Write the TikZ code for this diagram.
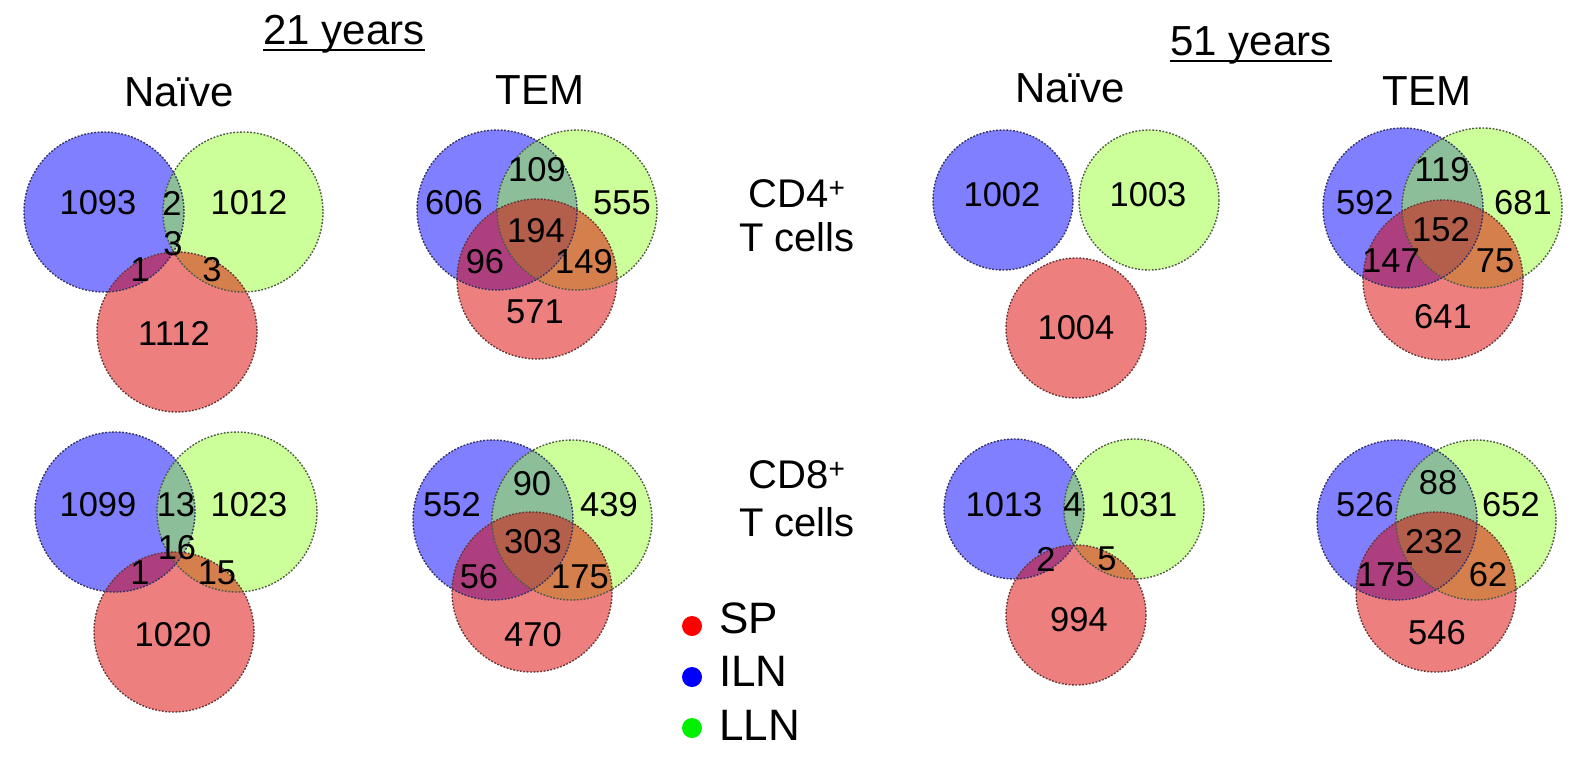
\documentclass[tikz,border=0pt]{standalone}
\usepackage{fontspec}
\setmainfont{Liberation Sans}
\definecolor{cblue}{RGB}{0,0,255}
\definecolor{cgreen}{RGB}{153,255,51}
\definecolor{cred}{RGB}{221,0,0}
\definecolor{rimblue}{RGB}{50,50,100}
\definecolor{rimgreen}{RGB}{80,88,70}
\definecolor{rimred}{RGB}{100,55,55}
\definecolor{dotred}{RGB}{255,0,0}
\definecolor{dotblue}{RGB}{0,0,255}
\definecolor{dotgreen}{RGB}{0,240,0}
\tikzset{
  num/.style={font=\fontsize{34.5}{34.5}\selectfont, inner sep=0pt},
  ttl/.style={font=\fontsize{42}{42}\selectfont, inner sep=0pt, anchor=base},
  cdl/.style={font=\fontsize{40}{40}\selectfont, inner sep=0pt, anchor=base},
  leg/.style={font=\fontsize{44}{44}\selectfont, inner sep=0pt, anchor=west},
  legdot/.style={circle, inner sep=0pt, minimum size=20pt},
  bluef/.style={fill=cblue, fill opacity=0.5},
  greenf/.style={fill=cgreen, fill opacity=0.5},
  redf/.style={fill=cred, fill opacity=0.5},
  rim/.style={dash pattern=on 1.8pt off 1.6pt, line width=1.4pt},
  uline/.style={line width=1.8pt}
}
% #1 blue x, #2 blue/green y, #3 green x, #4 red x, #5 red y, #6 radius
\newcommand\myvenn[6]{%
  \fill[bluef] (#1,#2) circle[radius=#6];
  \fill[greenf] (#3,#2) circle[radius=#6];
  \fill[redf] (#4,#5) circle[radius=#6];
  \draw[rim, draw=rimblue] (#1,#2) circle[radius=#6];
  \draw[rim, draw=rimgreen] (#3,#2) circle[radius=#6];
  \draw[rim, draw=rimred] (#4,#5) circle[radius=#6];
}
\begin{document}
\begin{tikzpicture}[x=1pt, y=-1pt]
\useasboundingbox (0,0) rectangle (1591,769);

% titles
\node[ttl] (y21) at (344,44) {21 years};
\draw[uline] ([yshift=-6pt]y21.base west) -- ([yshift=-6pt]y21.base east);
\node[ttl] (y51) at (1251,55) {51 years};
\draw[uline] ([yshift=-6pt]y51.base west) -- ([yshift=-6pt]y51.base east);
\node[ttl] (nv1) at (179,106) {Naïve};
\node[ttl] (tem1) at (540,104) {TEM};
\node[ttl] (nv2) at (1070,102) {Naïve};
\node[ttl] (tem2) at (1427,105) {TEM};

% row labels
\node[cdl] (cd4) at (797,207) {CD4\textsuperscript{+}};
\node[cdl] (tc4) at (797,251) {T cells};
\node[cdl] (cd8) at (797,488) {CD8\textsuperscript{+}};
\node[cdl] (tc8) at (797,536) {T cells};

% venn circles
\myvenn{104}{212}{243}{177}{332}{80}
\myvenn{497}{210}{577}{537}{279}{80}
\myvenn{115}{512}{237}{174}{632}{80}
\myvenn{493}{520}{572}{532}{592}{80}
\myvenn{1003}{200}{1149}{1076}{328}{70}
\myvenn{1403}{208}{1482}{1443}{280}{80}
\myvenn{1014}{509}{1134}{1076}{615}{70}
\myvenn{1397}{520}{1476}{1436}{592}{80}

% 21 years, naive, CD4
\node[num] (a1) at (98,203) {1093};
\node[num] (a2) at (172,203) {2};
\node[num] (a3) at (249,203) {1012};
\node[num] (a4) at (173,244) {3};
\node[num] (a5) at (140,270) {1};
\node[num] (a6) at (212,270) {3};
\node[num] (a7) at (174,333) {1112};
% 21 years, TEM, CD4
\node[num] (b1) at (454,203) {606};
\node[num] (b2) at (537,170) {109};
\node[num] (b3) at (622,203) {555};
\node[num] (b4) at (536,231) {194};
\node[num] (b5) at (485,262) {96};
\node[num] (b6) at (584,262) {149};
\node[num] (b7) at (535,312) {571};
% 21 years, naive, CD8
\node[num] (c1) at (98,505) {1099};
\node[num] (c2) at (176,505) {13};
\node[num] (c3) at (249,505) {1023};
\node[num] (c4) at (177,548) {16};
\node[num] (c5) at (140,573) {1};
\node[num] (c6) at (217,573) {15};
\node[num] (c7) at (173,635) {1020};
% 21 years, TEM, CD8
\node[num] (d1) at (452,505) {552};
\node[num] (d2) at (532,484) {90};
\node[num] (d3) at (609,505) {439};
\node[num] (d4) at (533,542) {303};
\node[num] (d5) at (479,577) {56};
\node[num] (d6) at (580,577) {175};
\node[num] (d7) at (533,635) {470};
% 51 years, naive, CD4
\node[num] (e1) at (1002,195) {1002};
\node[num] (e2) at (1148,195) {1003};
\node[num] (e3) at (1076,328) {1004};
% 51 years, TEM, CD4
\node[num] (f1) at (1365,203) {592};
\node[num] (f2) at (1442,170) {119};
\node[num] (f3) at (1523,203) {681};
\node[num] (f4) at (1441,230) {152};
\node[num] (f5) at (1391,261) {147};
\node[num] (f6) at (1495,261) {75};
\node[num] (f7) at (1443,317) {641};
% 51 years, naive, CD8
\node[num] (g1) at (1004,505) {1013};
\node[num] (g2) at (1073,505) {4};
\node[num] (g3) at (1139,505) {1031};
\node[num] (g4) at (1046,559) {2};
\node[num] (g5) at (1107,559) {5};
\node[num] (g6) at (1079,620) {994};
% 51 years, TEM, CD8
\node[num] (h1) at (1365,505) {526};
\node[num] (h2) at (1438,483) {88};
\node[num] (h3) at (1511,505) {652};
\node[num] (h4) at (1434,542) {232};
\node[num] (h5) at (1386,575) {175};
\node[num] (h6) at (1488,575) {62};
\node[num] (h7) at (1437,633) {546};

% legend
\node[legdot, fill=dotred] (dsp) at (692,626) {};
\node[leg] (lsp) at (719,618) {SP};
\node[legdot, fill=dotblue] (diln) at (692,677) {};
\node[leg] (liln) at (719,671) {ILN};
\node[legdot, fill=dotgreen] (dlln) at (692,728) {};
\node[leg] (llln) at (719,725) {LLN};
\end{tikzpicture}
\end{document}
